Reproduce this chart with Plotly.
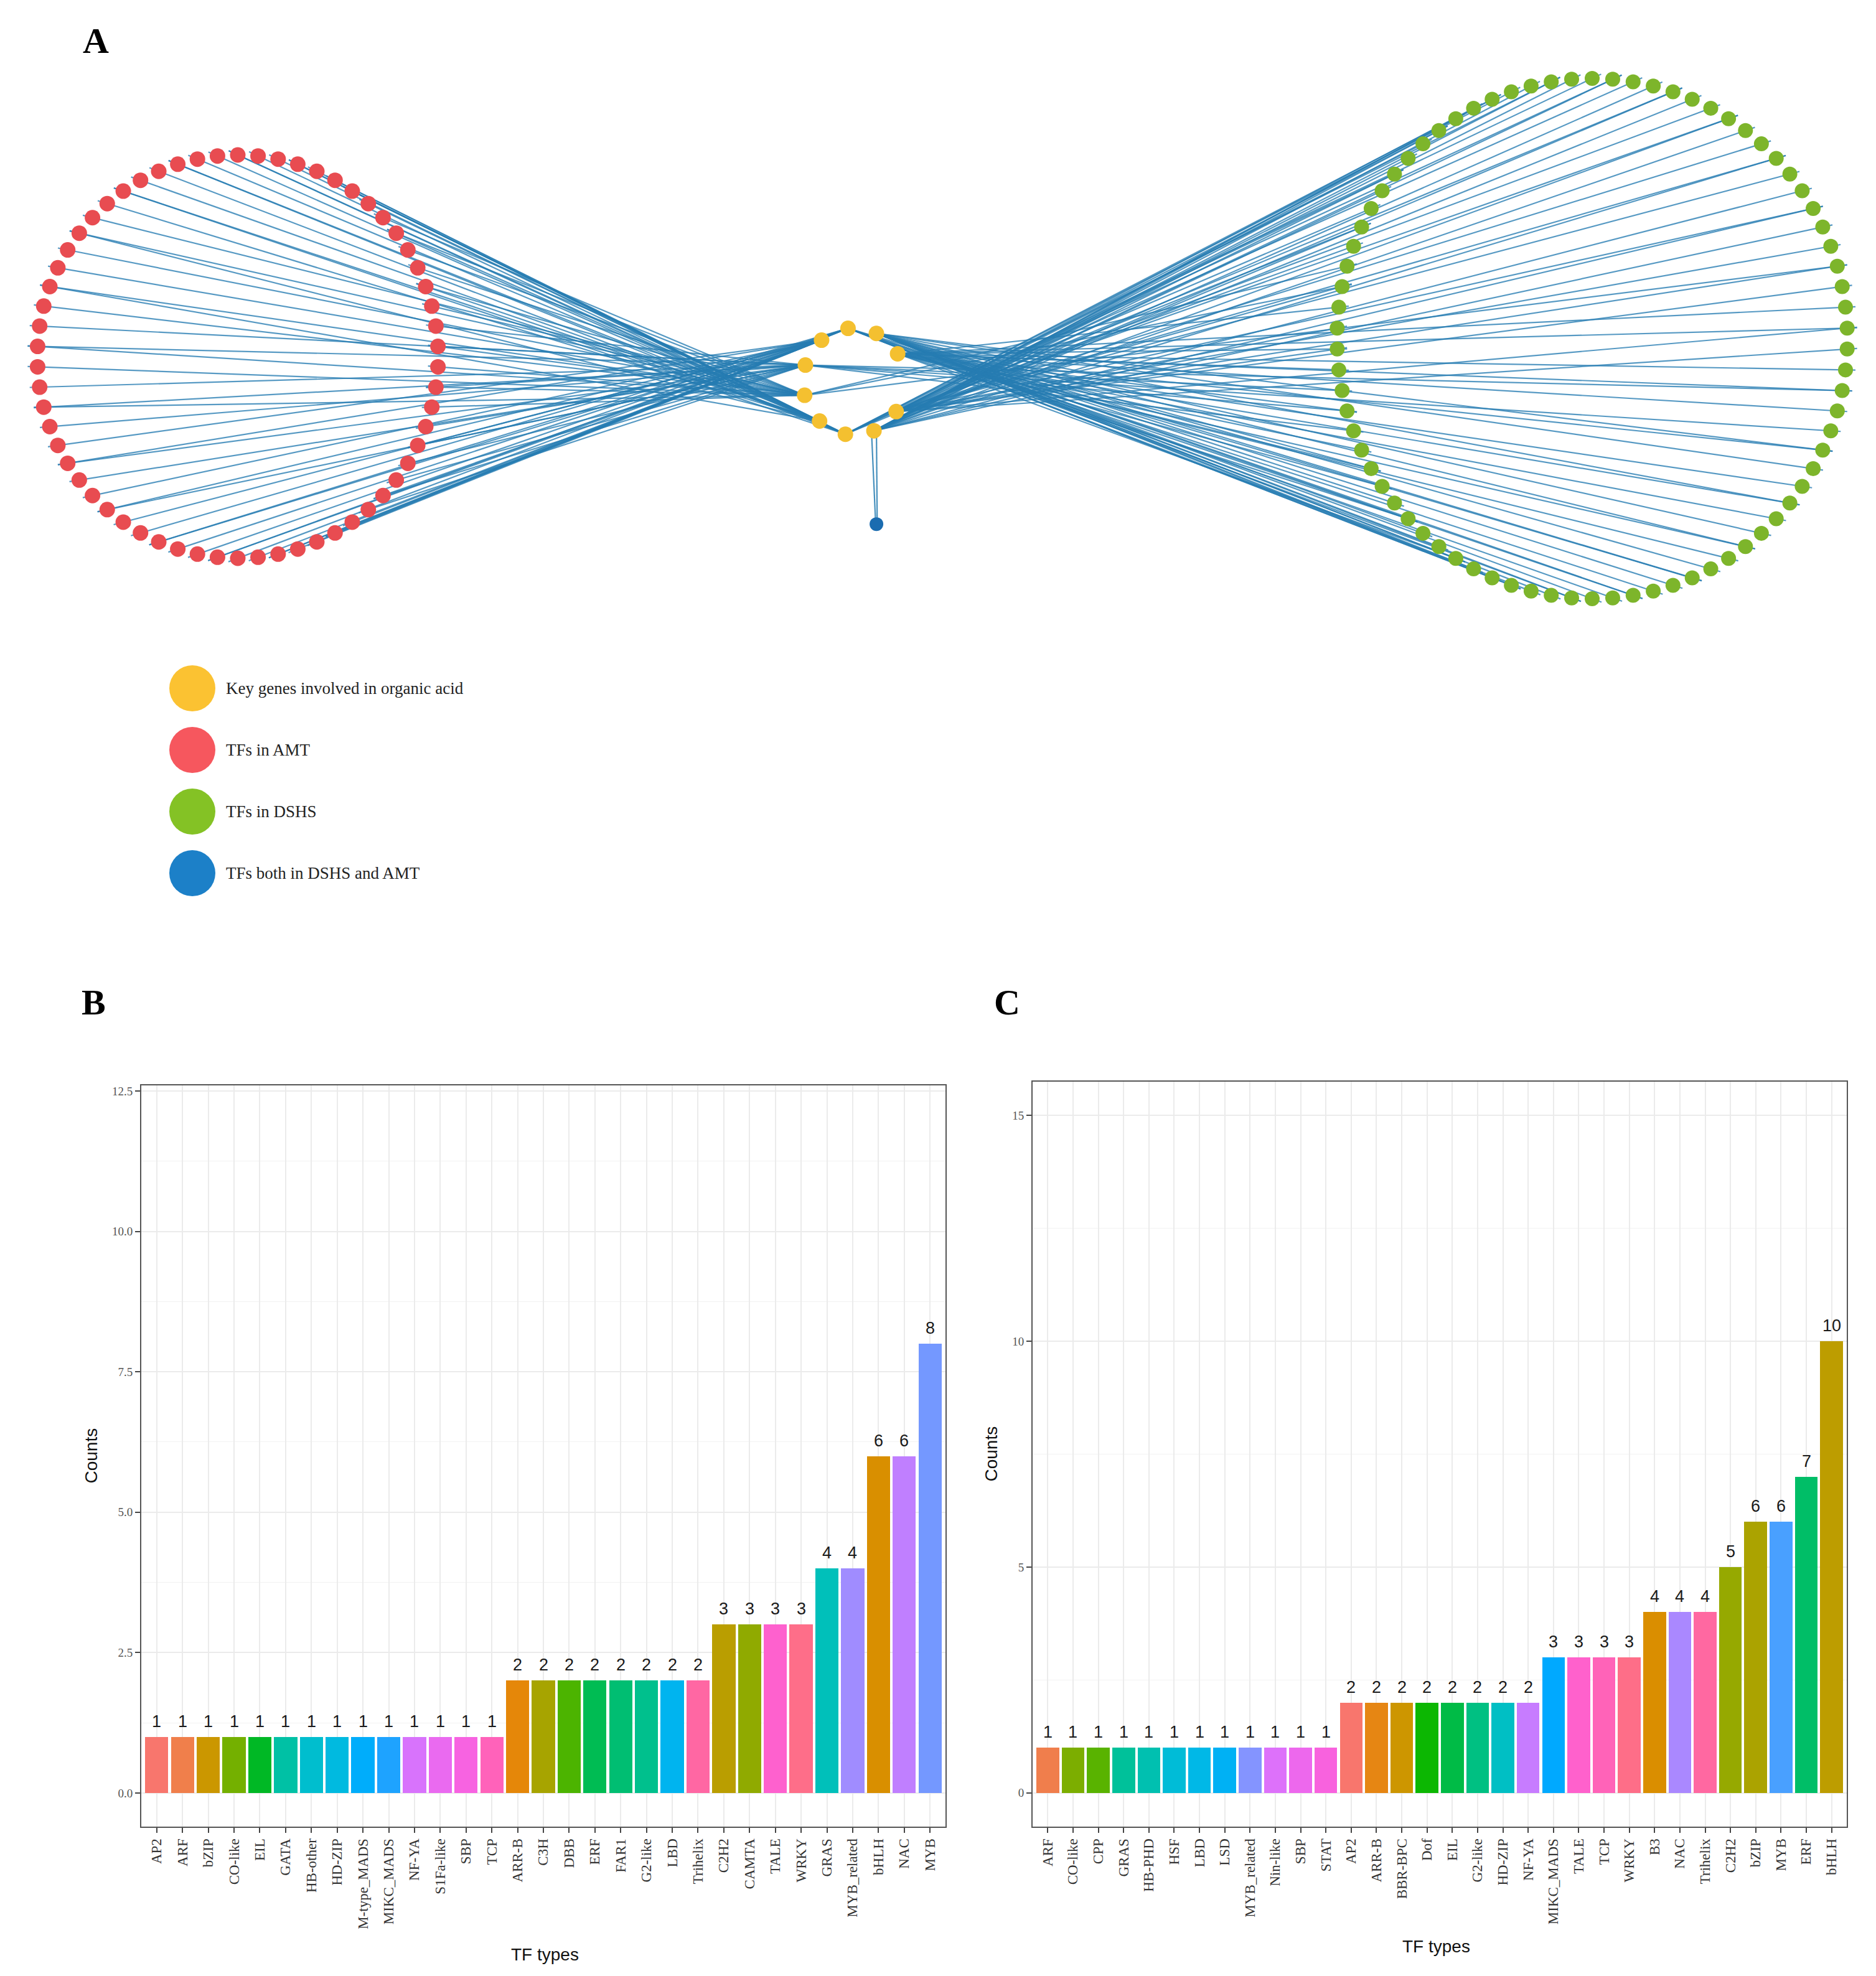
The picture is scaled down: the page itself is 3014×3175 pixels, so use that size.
import math
import plotly.graph_objects as go

W, H = 3014, 3175

# ---------------- Data ----------------
# Panel B: TF types in AMT
b_types = ["AP2", "ARF", "bZIP", "CO-like", "EIL", "GATA", "HB-other", "HD-ZIP",
           "M-type_MADS", "MIKC_MADS", "NF-YA", "S1Fa-like", "SBP", "TCP",
           "ARR-B", "C3H", "DBB", "ERF", "FAR1", "G2-like", "LBD", "Trihelix",
           "C2H2", "CAMTA", "TALE", "WRKY", "GRAS", "MYB_related", "bHLH", "NAC", "MYB"]
b_counts = [1, 1, 1, 1, 1, 1, 1, 1, 1, 1, 1, 1, 1, 1,
            2, 2, 2, 2, 2, 2, 2, 2,
            3, 3, 3, 3, 4, 4, 6, 6, 8]
b_yticks = [0, 2.5, 5, 7.5, 10, 12.5]
b_yticktext = ["0.0", "2.5", "5.0", "7.5", "10.0", "12.5"]

# Panel C: TF types in DSHS
c_types = ["ARF", "CO-like", "CPP", "GRAS", "HB-PHD", "HSF", "LBD", "LSD",
           "MYB_related", "Nin-like", "SBP", "STAT",
           "AP2", "ARR-B", "BBR-BPC", "Dof", "EIL", "G2-like", "HD-ZIP", "NF-YA",
           "MIKC_MADS", "TALE", "TCP", "WRKY", "B3", "NAC", "Trihelix",
           "C2H2", "bZIP", "MYB", "ERF", "bHLH"]
c_counts = [1, 1, 1, 1, 1, 1, 1, 1, 1, 1, 1, 1,
            2, 2, 2, 2, 2, 2, 2, 2,
            3, 3, 3, 3, 4, 4, 4,
            5, 6, 6, 7, 10]
c_yticks = [0, 5, 10, 15]
c_yticktext = ["0", "5", "10", "15"]

# Panel A: network node groups
n_amt = 62      # TFs in AMT (red ring)
n_dshs = 78     # TFs in DSHS (green ring)
n_key = 10      # key genes (yellow)
legend_labels = ["Key genes involved in organic acid", "TFs in AMT",
                 "TFs in DSHS", "TFs both in DSHS and AMT"]
legend_colors = ["#FBC232", "#F6575E", "#84C225", "#1C80C8"]


# ---------------- helpers ----------------
def hcl_hex(h, c=100.0, l=65.0):
    hr = math.radians(h)
    U, V = c * math.cos(hr), c * math.sin(hr)
    Xn, Yn, Zn = 0.95047, 1.0, 1.08883
    un = 4 * Xn / (Xn + 15 * Yn + 3 * Zn)
    vn = 9 * Yn / (Xn + 15 * Yn + 3 * Zn)
    up = U / (13 * l) + un
    vp = V / (13 * l) + vn
    Y = Yn * ((l + 16) / 116) ** 3
    X = Y * 9 * up / (4 * vp)
    Z = Y * (12 - 3 * up - 20 * vp) / (4 * vp)
    r = 3.2404542 * X - 1.5371385 * Y - 0.4985314 * Z
    g = -0.9692660 * X + 1.8760108 * Y + 0.0415560 * Z
    b = 0.0556434 * X - 0.2040259 * Y + 1.0572252 * Z

    def gam(v):
        v = 12.92 * v if v <= 0.0031308 else 1.055 * v ** (1 / 2.4) - 0.055
        return int(round(min(max(v, 0), 1) * 255))
    return "#%02X%02X%02X" % (gam(r), gam(g), gam(b))


def hue_colors(types):
    levels = sorted(types, key=str.lower)
    n = len(levels)
    pal = {lv: hcl_hex(15 + i * 360.0 / n) for i, lv in enumerate(levels)}
    return [pal[t] for t in types]


def py2paper(p):
    return 1 - p / H


fig = go.Figure()

# ---------------- Panel A: network ----------------
red_c, red_rx, red_ry = (374, 565), 322, 324
grn_c, grn_rx, grn_ry = (2550, 536), 410, 418
key_c, key_rx, key_ry = (1364, 605), 82, 86

def ring(center, rx, ry, n, start=0.0):
    pts = []
    for i in range(n):
        a = start + 2 * math.pi * i / n
        pts.append((center[0] + rx * math.cos(a), center[1] - ry * math.sin(a)))
    return pts

red_pts = ring(red_c, red_rx, red_ry, n_amt, math.pi / n_amt)
grn_pts = ring(grn_c, grn_rx, grn_ry, n_dshs, math.pi / n_dshs)
slots = ring(key_c, key_rx, key_ry, n_key + 1, math.radians(-1.5))
key_pts = slots[1:]
blue_anchor = slots[9]
blue_pt = (blue_anchor[0] + 4, blue_anchor[1] + 150)

ex, ey = [], []

def add_edges(pts, center, ry, near_x):
    for i, (x, y) in enumerate(pts):
        s = (center[1] - y) / ry
        yt = key_c[1] + s * key_ry
        cands = sorted(range(n_key), key=lambda k: abs(key_pts[k][1] - yt) + 0.3 * abs(key_pts[k][0] - near_x))
        targets = [cands[i % 2]]
        if i % 3 == 0:
            targets.append(cands[(i + 1) % 2])
        for k in targets:
            tx, ty = key_pts[k]
            dx, dy = x - tx, y - ty
            d = math.hypot(dx, dy)
            sx, sy = x + dx / d * 16, y + dy / d * 16
            ex.extend([sx, tx, None])
            ey.extend([sy, ty, None])

add_edges(red_pts, red_c, red_ry, 1288)
add_edges(grn_pts, grn_c, grn_ry, 1439)

fig.add_trace(go.Scatter(x=ex, y=ey, mode="lines", xaxis="x3", yaxis="y3",
                         line=dict(color="rgba(38,124,178,0.78)", width=2.2),
                         hoverinfo="skip"))
for off in (-4, 4):
    fig.add_trace(go.Scatter(x=[blue_anchor[0] + off, blue_pt[0] + off * 0.3],
                             y=[blue_anchor[1], blue_pt[1]], mode="lines",
                             xaxis="x3", yaxis="y3",
                             line=dict(color="rgba(38,124,178,0.85)", width=2.2),
                             hoverinfo="skip"))

fig.add_trace(go.Scatter(x=[p[0] for p in red_pts], y=[p[1] for p in red_pts],
                         mode="markers", xaxis="x3", yaxis="y3",
                         marker=dict(size=25, color="#E84C51", line=dict(width=0))))
fig.add_trace(go.Scatter(x=[p[0] for p in grn_pts], y=[p[1] for p in grn_pts],
                         mode="markers", xaxis="x3", yaxis="y3",
                         marker=dict(size=24, color="#7DB52B", line=dict(width=0))))
fig.add_trace(go.Scatter(x=[p[0] for p in key_pts], y=[p[1] for p in key_pts],
                         mode="markers", xaxis="x3", yaxis="y3",
                         marker=dict(size=25, color="#F4C030", line=dict(width=0))))
fig.add_trace(go.Scatter(x=[blue_pt[0]], y=[blue_pt[1]],
                         mode="markers", xaxis="x3", yaxis="y3",
                         marker=dict(size=22, color="#1B6CB0", line=dict(width=0))))

# legend of panel A
leg_x, leg_y0, leg_dy = 301, 1098, 99
fig.add_trace(go.Scatter(x=[leg_x] * 4, y=[leg_y0 + i * leg_dy for i in range(4)],
                         mode="markers", xaxis="x3", yaxis="y3",
                         marker=dict(size=74, color=legend_colors, line=dict(width=0))))
annotations = []
for i, lab in enumerate(legend_labels):
    annotations.append(dict(x=leg_x + 52, y=leg_y0 + i * leg_dy, xref="x3", yref="y3",
                            text=lab, showarrow=False, xanchor="left", yanchor="middle",
                            font=dict(family="Liberation Serif", size=27, color="#222")))

# ---------------- Panels B and C ----------------
b_colors = hue_colors(b_types)
c_colors = hue_colors(c_types)

fig.add_trace(go.Bar(x=b_types, y=b_counts, marker=dict(color=b_colors, line=dict(width=0)),
                     width=0.9, xaxis="x", yaxis="y"))
fig.add_trace(go.Bar(x=c_types, y=c_counts, marker=dict(color=c_colors, line=dict(width=0)),
                     width=0.9, xaxis="x2", yaxis="y2"))

lab_font = dict(family="Liberation Sans", size=27, color="#1a1a1a")
for t, v in zip(b_types, b_counts):
    annotations.append(dict(x=t, y=v, xref="x", yref="y", text=str(v), showarrow=False,
                            yanchor="bottom", yshift=8, font=lab_font))
for t, v in zip(c_types, c_counts):
    annotations.append(dict(x=t, y=v, xref="x2", yref="y2", text=str(v), showarrow=False,
                            yanchor="bottom", yshift=8, font=lab_font))

# panel B/C geometry (pixels)
bL, bR, bT, bB = 219, 1511, 1736, 2927
cL, cR, cT, cB = 1651, 2959, 1730, 2927

tickfont = dict(family="Liberation Serif", size=23, color="#333")
ytickfont = dict(family="Liberation Serif", size=19, color="#555")
common_x = dict(type="category", tickangle=-90, tickfont=tickfont, showgrid=True,
                gridcolor="#EBEBEB", gridwidth=2, ticks="outside", ticklen=8,
                tickcolor="#444", tickwidth=2, showline=True, mirror=True,
                linecolor="#555", linewidth=2, zeroline=False)
common_y = dict(tickfont=ytickfont, showgrid=True, gridcolor="#EBEBEB", gridwidth=2,
                ticks="outside", ticklen=8, tickcolor="#444", tickwidth=2,
                showline=True, mirror=True, linecolor="#555", linewidth=2, zeroline=False)

fig.update_layout(
    width=W, height=H, margin=dict(l=0, r=0, t=0, b=0),
    paper_bgcolor="white", plot_bgcolor="white", showlegend=False,
    bargap=0,
    xaxis=dict(common_x, domain=[bL / W, bR / W], anchor="y",
               categoryorder="array", categoryarray=b_types,
               range=[-0.6, len(b_types) - 0.4]),
    yaxis=dict(common_y, domain=[py2paper(bB), py2paper(bT)], anchor="x",
               range=[-0.6, 12.6], tickvals=b_yticks, ticktext=b_yticktext,
               minor=dict(tick0=1.25, dtick=2.5, showgrid=True, gridcolor="#F2F2F2",
                          gridwidth=1, ticks="")),
    xaxis2=dict(common_x, domain=[cL / W, cR / W], anchor="y2",
                categoryorder="array", categoryarray=c_types,
                range=[-0.6, len(c_types) - 0.4]),
    yaxis2=dict(common_y, domain=[py2paper(cB), py2paper(cT)], anchor="x2",
                range=[-0.75, 15.75], tickvals=c_yticks, ticktext=c_yticktext,
                minor=dict(tick0=2.5, dtick=5, showgrid=True, gridcolor="#F2F2F2",
                           gridwidth=1, ticks="")),
    xaxis3=dict(domain=[0, 1], range=[0, W], visible=False, anchor="y3"),
    yaxis3=dict(domain=[py2paper(1500), 1], range=[1500, 0], visible=False, anchor="x3"),
)

title_font = dict(family="Liberation Sans", size=28, color="#111")
letter_font = dict(family="Liberation Serif", size=58, color="#000")
annotations += [
    dict(x=146 / W, y=py2paper(58), xref="paper", yref="paper", text="<b>A</b>",
         showarrow=False, font=letter_font, xanchor="center", yanchor="middle"),
    dict(x=142 / W, y=py2paper(1602), xref="paper", yref="paper", text="<b>B</b>",
         showarrow=False, font=letter_font, xanchor="center", yanchor="middle"),
    dict(x=1610 / W, y=py2paper(1602), xref="paper", yref="paper", text="<b>C</b>",
         showarrow=False, font=letter_font, xanchor="center", yanchor="middle"),
    dict(x=138 / W, y=py2paper((bT + bB) / 2), xref="paper", yref="paper", text="Counts",
         showarrow=False, textangle=-90, font=title_font, xanchor="center", yanchor="middle"),
    dict(x=1584 / W, y=py2paper((cT + cB) / 2), xref="paper", yref="paper", text="Counts",
         showarrow=False, textangle=-90, font=title_font, xanchor="center", yanchor="middle"),
    dict(x=867 / W, y=py2paper(3132), xref="paper", yref="paper", text="TF types",
         showarrow=False, font=title_font, xanchor="center", yanchor="middle"),
    dict(x=2299 / W, y=py2paper(3119), xref="paper", yref="paper", text="TF types",
         showarrow=False, font=title_font, xanchor="center", yanchor="middle"),
]
fig.update_layout(annotations=annotations)

fig.write_html("out.html")
